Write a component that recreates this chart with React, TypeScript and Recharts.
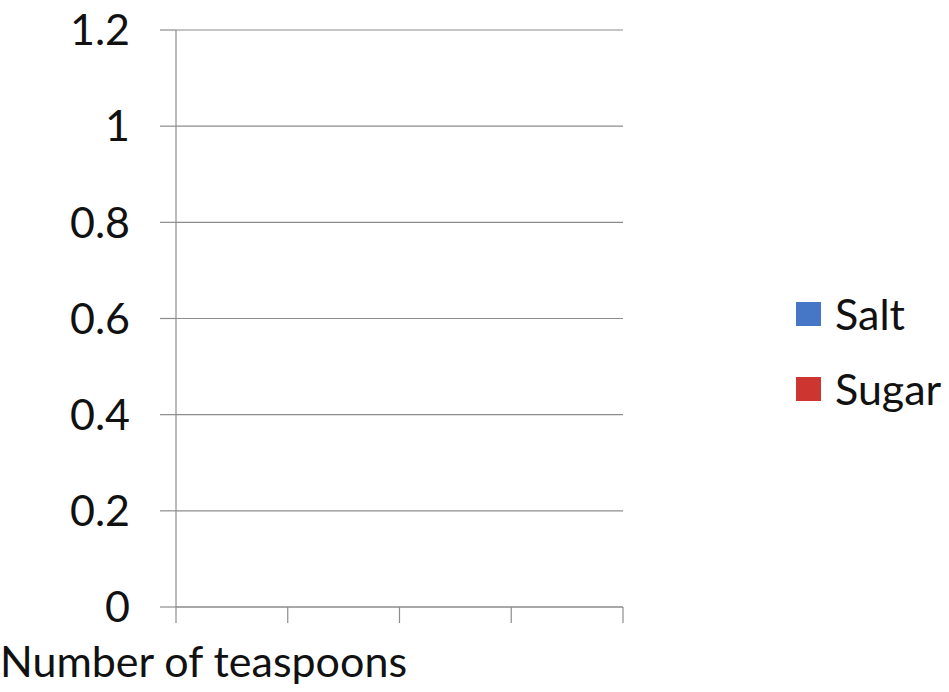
import React from 'react';
import { BarChart, Bar, XAxis, YAxis, CartesianGrid, Legend } from 'recharts';

// four empty category slots, no values plotted yet
const slots = [1, 2, 3, 4];
const saltValues: (number | null)[] = [null, null, null, null];
const sugarValues: (number | null)[] = [null, null, null, null];
const yTicks = [0, 0.2, 0.4, 0.6, 0.8, 1, 1.2];
const slotEdges = [0, 1, 2, 3, 4];

const data = slots.map((s, i) => ({ pos: s - 0.5, salt: saltValues[i], sugar: sugarValues[i] }));

const FONT = 'Lato, "Open Sans", sans-serif';
const GRID = '#8c8c8c';

const LegendBox = ({ payload }: any) => (
  <div style={{ fontFamily: FONT }}>
    {(payload || []).map((p: any) => (
      <div key={p.value} style={{ display: 'flex', alignItems: 'center', height: 75 }}>
        <span style={{ display: 'inline-block', width: 25, height: 24, background: p.color, marginRight: 14 }} />
        <span style={{ fontSize: 43, color: '#111' }}>{p.value}</span>
      </div>
    ))}
  </div>
);

export default function App() {
  return (
    <div style={{ position: 'absolute', left: 0, top: 0, width: 949, height: 692, background: '#fff' }}>
      <BarChart width={949} height={692} data={data} margin={{ top: 30, right: 326, left: 0, bottom: 0 }}>
        <CartesianGrid vertical={false} stroke={GRID} strokeWidth={1.2} />
        <XAxis
          type="number"
          dataKey="pos"
          domain={[0, 4]}
          ticks={slotEdges}
          tickFormatter={() => ''}
          tickSize={16}
          height={85}
          axisLine={{ stroke: GRID, strokeWidth: 1.2 }}
          tickLine={{ stroke: GRID, strokeWidth: 1.2 }}
          label={{
            content: () => (
              <text x={0} y={677} fontSize={43} fontFamily={FONT} fill="#111">
                Number of teaspoons
              </text>
            ),
          }}
        />
        <YAxis
          type="number"
          width={176}
          domain={[0, 1.2]}
          allowDataOverflow
          ticks={yTicks}
          interval={0}
          tickSize={16}
          tickMargin={30}
          axisLine={{ stroke: GRID, strokeWidth: 1.2 }}
          tickLine={{ stroke: GRID, strokeWidth: 1.2 }}
          tick={{ fill: '#111', fontSize: 43, fontFamily: FONT }}
        />
        <Legend
          layout="vertical"
          align="center"
          verticalAlign="middle"
          content={<LegendBox />}
          wrapperStyle={{ left: 796, top: 276, width: 160 }}
        />
        <Bar dataKey="salt" name="Salt" fill="#4577c6" isAnimationActive={false} />
        <Bar dataKey="sugar" name="Sugar" fill="#cc3530" isAnimationActive={false} />
      </BarChart>
    </div>
  );
}
